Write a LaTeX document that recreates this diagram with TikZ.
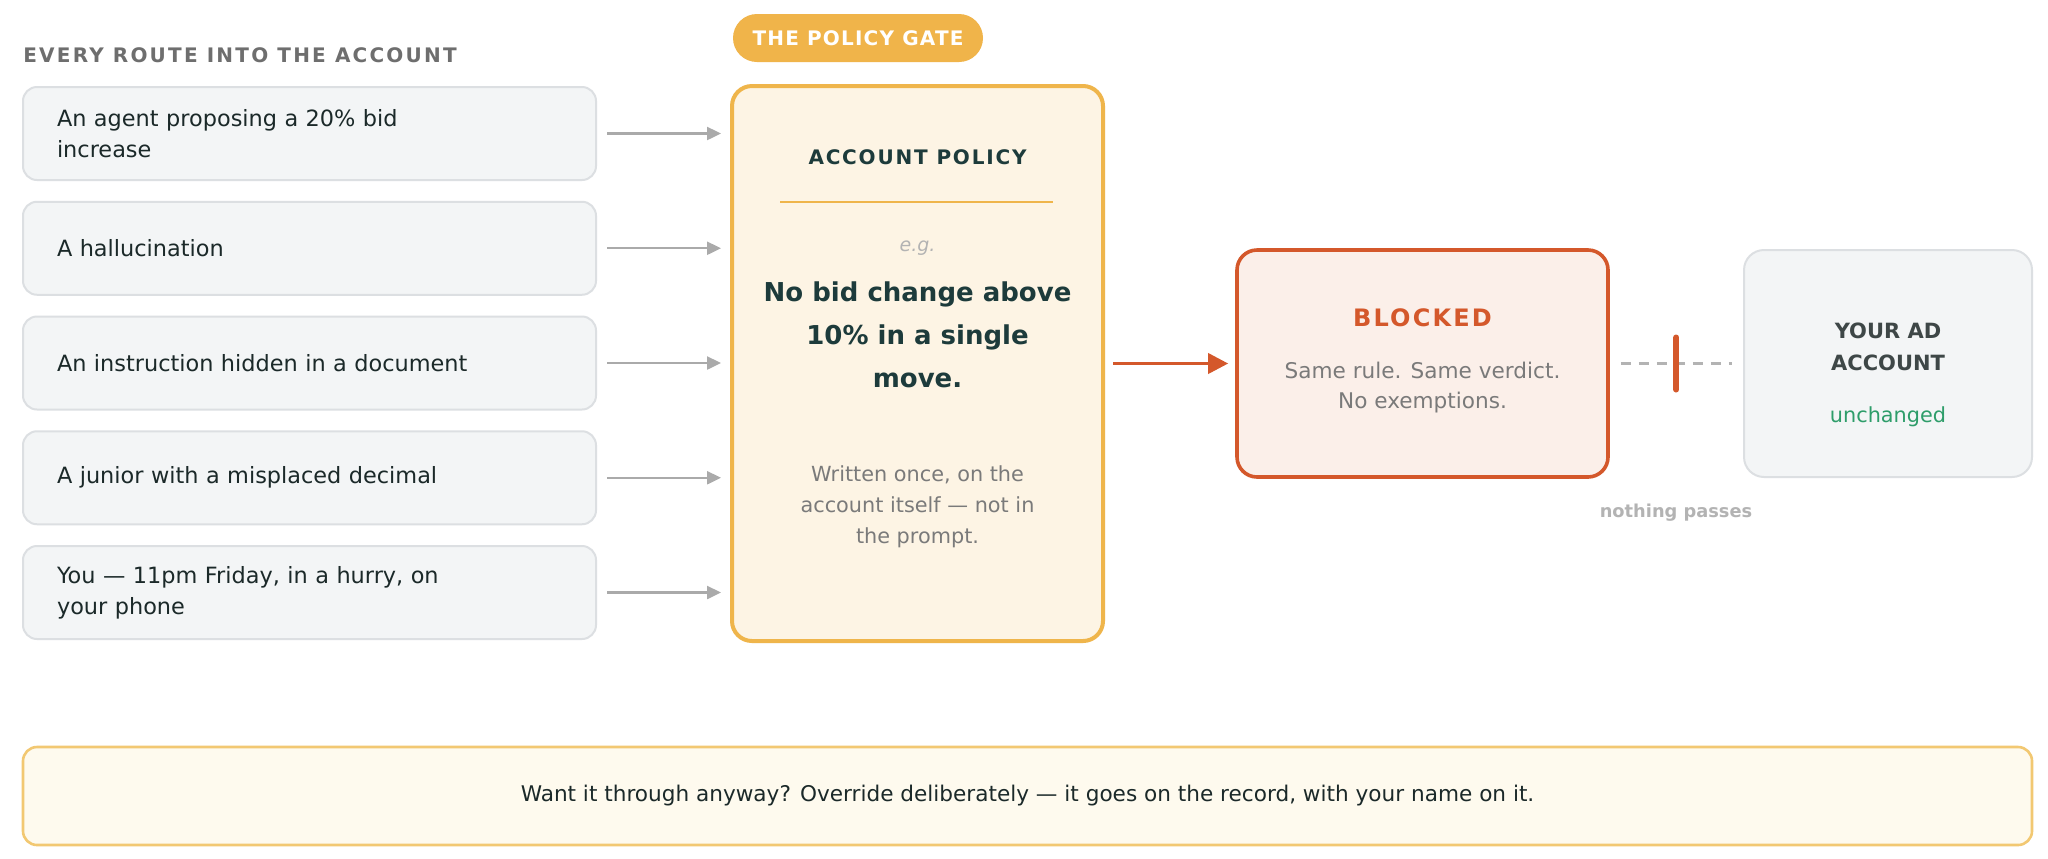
\documentclass[tikz,border=0pt]{standalone}
\usepackage{fontspec}
\setmainfont{DejaVu Sans}
\newfontfamily\widecaps[LetterSpace=9]{DejaVu Sans}
\newfontfamily\titlecaps[LetterSpace=11]{DejaVu Sans}
\newfontfamily\gatecaps[LetterSpace=6]{DejaVu Sans}
\usepackage{xcolor}
\usetikzlibrary{arrows.meta,calc}

\definecolor{ink}{HTML}{1B2929}
\definecolor{policyink}{HTML}{1D3B3B}
\definecolor{headgray}{HTML}{6E6E6E}
\definecolor{routefill}{HTML}{F3F5F6}
\definecolor{routeline}{HTML}{DCDFE2}
\definecolor{feedgray}{HTML}{AAAAAA}
\definecolor{gatefill}{HTML}{F0B44A}
\definecolor{policyfill}{HTML}{FDF4E4}
\definecolor{policyline}{HTML}{EFB54B}
\definecolor{blockred}{HTML}{D4582B}
\definecolor{blockfill}{HTML}{FBEFE9}
\definecolor{muted}{HTML}{7A7A7A}
\definecolor{faint}{HTML}{B3B3B3}
\definecolor{okgreen}{HTML}{2E9D6A}
\definecolor{acctink}{HTML}{3E4747}
\definecolor{bannerfill}{HTML}{FEFAEE}
\definecolor{bannerline}{HTML}{F2C872}

\tikzset{
    route/.style={draw=routeline, fill=routefill, line width=1pt, rounded corners=7pt,
        minimum width=286.5pt, minimum height=46.5pt, text width=252.5pt,
        inner xsep=17pt, inner ysep=0pt, align=left, text=ink,
        font=\fontsize{11.2}{15.5}\selectfont},
    feed/.style={draw=feedgray, line width=1.2pt, -{Triangle[length=7pt,width=6.5pt]},
        shorten <=5pt, shorten >=4.5pt},
    verdict/.style={draw=blockred, line width=1.8pt, -{Triangle[length=10pt,width=10pt]},
        shorten <=4pt, shorten >=3.5pt},
    cutline/.style={draw=faint, line width=1.5pt, dash pattern=on 5pt off 4pt,
        shorten <=5.5pt, shorten >=5.5pt},
    barrier/.style={draw=blockred, line width=3pt, line cap=round},
    plain/.style={inner sep=0pt, align=center}
}

\begin{document}
\begin{tikzpicture}[x=0.5pt,y=-0.5pt]
    \useasboundingbox[fill=white] (0,0) rectangle (2048,858);

    % left column: every route in
    \node[anchor=west, plain, text=headgray, font=\titlecaps\bfseries\fontsize{10}{12}\selectfont]
        (routestitle) at (23,55) {EVERY ROUTE INTO THE ACCOUNT};
    \node[route] (r1) at (309.5,133.5)  {An agent proposing a 20\% bid\\increase};
    \node[route] (r2) at (309.5,248.25) {A hallucination};
    \node[route] (r3) at (309.5,363)    {An instruction hidden in a document};
    \node[route] (r4) at (309.5,477.75) {A junior with a misplaced decimal};
    \node[route] (r5) at (309.5,592.5)  {You — 11pm Friday, in a hurry, on\\your phone};

    % the gate
    \node[fill=gatefill, rounded corners=12pt, minimum width=125pt, minimum height=24pt,
        inner sep=0pt, text=white, font=\gatecaps\bfseries\fontsize{10}{12}\selectfont]
        (gate) at (858,38) {THE POLICY GATE};
    \node[draw=policyline, fill=policyfill, line width=2pt, rounded corners=10pt,
        minimum width=185.5pt, minimum height=277.5pt] (policy) at (917.5,363.5) {};
    \node[plain, text=policyink, font=\widecaps\bfseries\fontsize{10}{12}\selectfont]
        (policytitle) at (917.5,157) {ACCOUNT POLICY};
    \draw[policyline, line width=1.2pt] (780,202) -- (1053,202);
    \node[plain, text=faint, font=\itshape\fontsize{9.5}{11}\selectfont] (eg) at (917.5,248) {e.g.};
    \node[plain, text=policyink, font=\bfseries\fontsize{13}{21.5}\selectfont]
        (rule) at (917.5,335) {No bid change above\\10\% in a single\\move.};
    \node[plain, text=muted, font=\fontsize{10.4}{15.5}\selectfont]
        (where) at (917.5,507) {Written once, on the\\account itself — not in\\the prompt.};

    % arrows into the gate
    \draw[feed] (r1.east) -- (r1.east -| policy.west);
    \draw[feed] (r2.east) -- (r2.east -| policy.west);
    \draw[feed] (r3.east) -- (r3.east -| policy.west);
    \draw[feed] (r4.east) -- (r4.east -| policy.west);
    \draw[feed] (r5.east) -- (r5.east -| policy.west);

    % outcome
    \node[draw=blockred, fill=blockfill, line width=1.8pt, rounded corners=10pt,
        minimum width=185.5pt, minimum height=113.5pt] (blocked) at (1422.5,363.5) {};
    \node[plain, text=blockred, font=\widecaps\bfseries\fontsize{12}{14}\selectfont]
        (blockedtitle) at (1422.5,318) {BLOCKED};
    \node[plain, text=muted, font=\fontsize{10.8}{15}\selectfont]
        (sameverdict) at (1422.5,388) {Same rule. Same verdict.\\No exemptions.};

    \node[draw=routeline, fill=routefill, line width=1pt, rounded corners=10pt,
        minimum width=144pt, minimum height=113.5pt] (account) at (1888,363.5) {};
    \node[plain, text=acctink, font=\bfseries\fontsize{10.5}{16}\selectfont]
        (accounttitle) at (1888,347) {YOUR AD\\ACCOUNT};
    \node[plain, text=okgreen, font=\fontsize{10.4}{12}\selectfont] (unchanged) at (1888,417) {unchanged};

    \draw[verdict] (policy.east) -- (blocked.west);
    \draw[cutline] (blocked.east) -- (account.west);
    \coordinate (gap) at ($(blocked.east)!0.5!(account.west)$);
    \draw[barrier] ([yshift=13pt]gap) -- ([yshift=-13pt]gap);
    \node[plain, text=faint, font=\bfseries\fontsize{8.9}{11}\selectfont] (nopass) at (1676,513) {nothing passes};

    % override note
    \node[draw=bannerline, fill=bannerfill, line width=1.3pt, rounded corners=7pt,
        minimum width=1004.5pt, minimum height=49pt, text=ink,
        font=\fontsize{10.8}{13}\selectfont] (override) at (1027.5,796)
        {Want it through anyway? Override deliberately — it goes on the record, with your name on it.};
\end{tikzpicture}
\end{document}
